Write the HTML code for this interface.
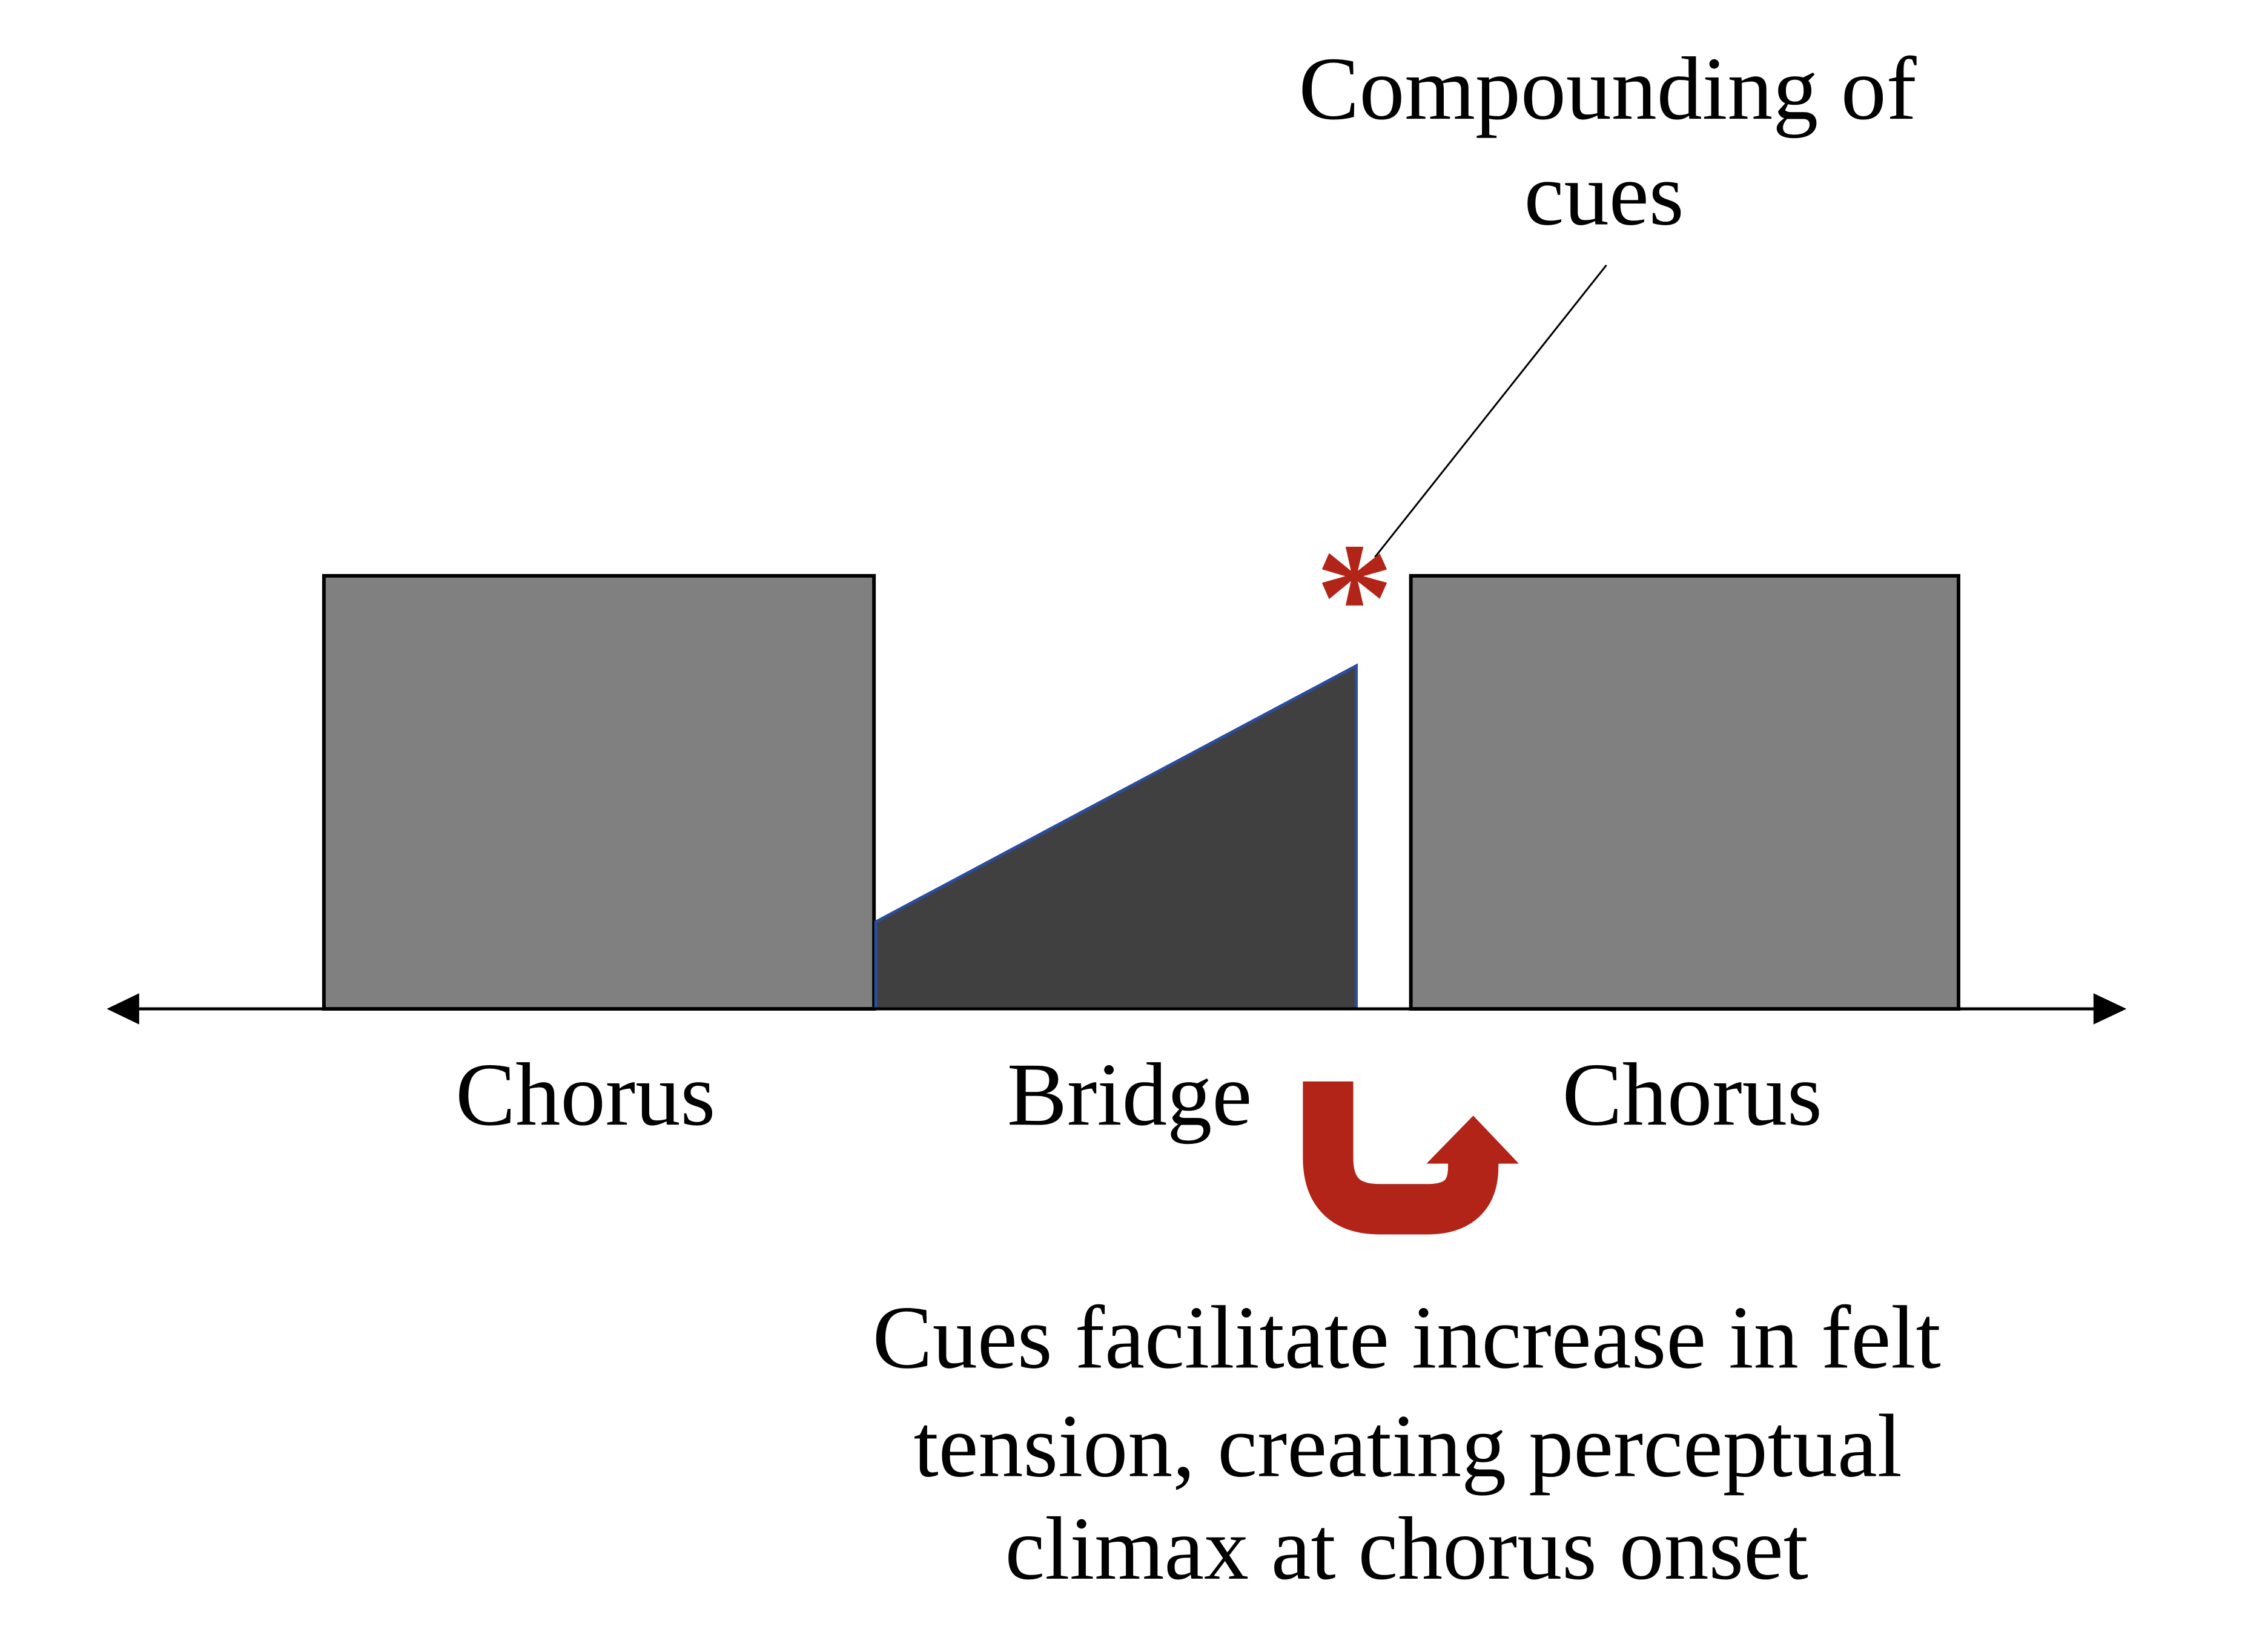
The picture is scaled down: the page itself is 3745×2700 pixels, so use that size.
<!DOCTYPE html>
<html><head><meta charset="utf-8"><style>html,body{margin:0;padding:0;background:#fff}svg{display:block}</style></head>
<body>
<svg width="3745" height="2700" viewBox="0 0 3745 2700" xmlns="http://www.w3.org/2000/svg" font-family="Liberation Serif, serif">
<g transform="scale(0.9905)">
<rect x="540" y="960" width="917" height="722" fill="#808080" stroke="#000" stroke-width="6"/>
<rect x="2352" y="960" width="913" height="722" fill="#808080" stroke="#000" stroke-width="6"/>
<polygon points="1460,1537 2261,1110 2261,1682 1460,1682" fill="#404040" stroke="#2c4c9c" stroke-width="5"/>
<line x1="200" y1="1682" x2="3520" y2="1682" stroke="#000" stroke-width="5"/>
<polygon points="178,1682 232,1656 232,1708" fill="#000"/>
<polygon points="3545,1682 3490,1656 3490,1708" fill="#000"/>
<line x1="2678" y1="442" x2="2292" y2="929" stroke="#000" stroke-width="3"/>
<text x="2258" y="1083" font-size="260" font-weight="bold" fill="#b22418" text-anchor="middle">*</text>
<text x="2680" y="198" font-size="150" text-anchor="middle" textLength="1030" lengthAdjust="spacingAndGlyphs">Compounding of</text>
<text x="2674" y="374" font-size="150" text-anchor="middle">cues</text>
<text x="976" y="1875" font-size="150" text-anchor="middle">Chorus</text>
<text x="1883" y="1875" font-size="150" text-anchor="middle">Bridge</text>
<text x="2821" y="1875" font-size="150" text-anchor="middle">Chorus</text>
<text x="2345" y="2280" font-size="150" text-anchor="middle" textLength="1781" lengthAdjust="spacingAndGlyphs">Cues facilitate increase in felt</text>
<text x="2347" y="2461" font-size="150" text-anchor="middle" textLength="1648" lengthAdjust="spacingAndGlyphs">tension, creating perceptual</text>
<text x="2345" y="2632" font-size="150" text-anchor="middle" textLength="1339" lengthAdjust="spacingAndGlyphs">climax at chorus onset</text>
<path d="M2214,1803 L2214,1930 Q2214,2016 2300,2016 L2380,2016 Q2456,2016 2456,1945 L2456,1925" fill="none" stroke="#b22418" stroke-width="84"/>
<polygon points="2378,1940 2456,1860 2532,1940" fill="#b22418"/>
</g>
</svg>
</body></html>
